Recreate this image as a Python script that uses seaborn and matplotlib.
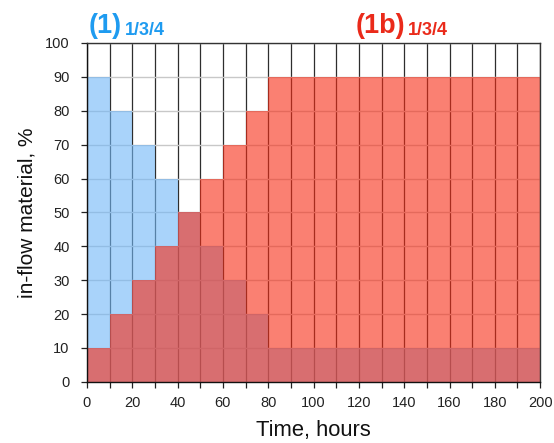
import numpy as np
import pandas as pd
import matplotlib
matplotlib.use("Agg")
import matplotlib.pyplot as plt
import seaborn as sns

# Start of each 10-hour interval
hours = list(range(0, 200, 10))
# Share of in-flow material per interval, %
flow_1 = [90, 80, 70, 60, 50, 40, 30, 20, 10, 10, 10, 10, 10, 10, 10, 10, 10, 10, 10, 10]
flow_1b = [10, 20, 30, 40, 50, 60, 70, 80, 90, 90, 90, 90, 90, 90, 90, 90, 90, 90, 90, 90]

x_major = [0, 20, 40, 60, 80, 100, 120, 140, 160, 180, 200]
y_major = [0, 10, 20, 30, 40, 50, 60, 70, 80, 90, 100]

sns.set_theme(style="white")
plt.rcParams["font.family"] = ["Liberation Sans", "DejaVu Sans"]

df = pd.DataFrame({"t": np.array(hours) + 5, "f1": flow_1, "f1b": flow_1b})

fig = plt.figure(figsize=(5.54, 4.43), dpi=100)
ax = fig.add_axes([0.157, 0.138, 0.818, 0.765])

sns.histplot(data=df, x="t", weights="f1", binwidth=10, binrange=(0, 200),
             element="step", fill=True, color="#71b7f8", alpha=0.6, linewidth=0,
             ax=ax, zorder=1)
sns.histplot(data=df, x="t", weights="f1b", binwidth=10, binrange=(0, 200),
             element="step", fill=True, color="#f82b14", alpha=0.6, linewidth=0,
             ax=ax, zorder=2)

ax.set_xlim(0, 200)
ax.set_ylim(0, 100)
ax.set_xticks(x_major)
ax.set_xticks(list(range(10, 200, 20)), minor=True)
ax.set_yticks(y_major)

ax.set_axisbelow(True)
ax.grid(False)
ax.xaxis.grid(True, which="both", color="#2e2e2e", linewidth=0.9, zorder=0)
ax.yaxis.grid(True, which="major", color="#c8c8c8", linewidth=1.0, zorder=0)

ax.tick_params(axis="both", which="both", direction="out", length=4.5, width=0.9,
               color="#222222", labelsize=10.5, labelcolor="#222222",
               bottom=True, left=True)
ax.tick_params(axis="x", which="both", pad=6)
ax.tick_params(axis="y", which="both", pad=8)

for s in ax.spines.values():
    s.set_visible(True)
    s.set_color("#333333")
    s.set_linewidth(1.0)
ax.spines["bottom"].set_color("#111111")
ax.spines["left"].set_color("#111111")

ax.set_xlabel("Time, hours", fontsize=15.8, color="#111111", labelpad=7)
ax.set_ylabel("in-flow material, %", fontsize=15, color="#111111", labelpad=6)

blue = "#1e9bf0"
red = "#ea2a1a"
fig.text(0.1606, 0.9255, "(1)", fontsize=19.5, fontweight="bold", color=blue, va="baseline")
fig.text(0.2256, 0.921, "1/3/4", fontsize=13, fontweight="bold", color=blue, va="baseline")
fig.text(0.6426, 0.9255, "(1b)", fontsize=19.5, fontweight="bold", color=red, va="baseline")
fig.text(0.7365, 0.921, "1/3/4", fontsize=13, fontweight="bold", color=red, va="baseline")

fig.savefig("out.png", dpi=100)
